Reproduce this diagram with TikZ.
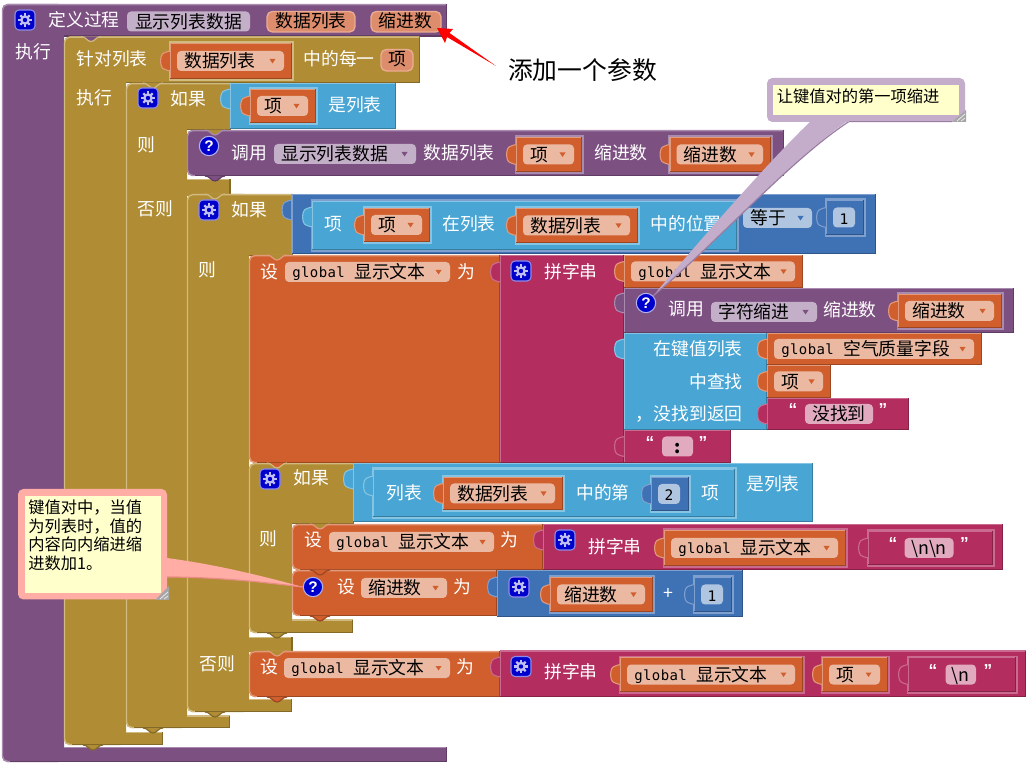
\documentclass[tikz,border=0pt]{standalone}
\usepackage{fontspec}
\setmainfont{Noto Sans CJK SC}
\newfontfamily\gmono[LetterSpace=3]{DejaVu Sans Mono}
\newfontfamily\nmono{DejaVu Sans Mono}
\newfontfamily\lsans{Liberation Sans}
\definecolor{pu}{HTML}{7D5082}\definecolor{puL}{HTML}{A88BAE}\definecolor{puD}{HTML}{5F3D64}\definecolor{puP}{HTML}{C3B0C8}
\definecolor{ol}{HTML}{B08D35}\definecolor{olL}{HTML}{D0BA80}\definecolor{olD}{HTML}{846A28}
\definecolor{or}{HTML}{D05F2D}\definecolor{orL}{HTML}{E39A7A}\definecolor{orD}{HTML}{9C4722}\definecolor{orP}{HTML}{EBB9A2}
\definecolor{bl}{HTML}{49A6D4}\definecolor{blL}{HTML}{85C4E3}\definecolor{blD}{HTML}{367D9F}\definecolor{blP}{HTML}{B6DBEE}
\definecolor{mb}{HTML}{3F71B5}\definecolor{mbL}{HTML}{7F9FCF}\definecolor{mbD}{HTML}{2F5588}\definecolor{mbP}{HTML}{B0C5E0}
\definecolor{pk}{HTML}{B32D5E}\definecolor{pkL}{HTML}{CB6A90}\definecolor{pkD}{HTML}{862246}\definecolor{pkP}{HTML}{E1AABF}
\definecolor{note}{HTML}{FFFFCC}\definecolor{cpu}{HTML}{C4ADCA}\definecolor{cpuD}{HTML}{9A7CA3}\definecolor{cpk}{HTML}{FFADA5}\definecolor{cpkD}{HTML}{E88C84}
\definecolor{ico}{HTML}{0000CC}\definecolor{paramF}{HTML}{DD8C6C}\definecolor{paramL}{HTML}{EBAD92}
\newcount\bkid
\newcommand\bkn{\global\advance\bkid by 1 }
\newcommand\zh{\fontsize{13.35pt}{16pt}\selectfont}
\newcommand\gl{\raisebox{.8pt}{\gmono\fontsize{10.5pt}{16pt}\selectfont global}\hspace{7pt}}
\tikzset{
  wl/.style={text=white,font=\zh,inner sep=0pt,text height=11.2pt,text depth=1.2pt,anchor=center},
  bk/.style={text=black,font=\zh,inner sep=0pt,text height=11.2pt,text depth=1.2pt},
  nt/.style={text=black,font=\fontsize{12.2pt}{14pt}\selectfont,inner sep=0pt,anchor=west,text height=10pt,text depth=1.2pt},
  qm/.style={text=white,font=\lsans\bfseries\fontsize{11.5pt}{13pt}\selectfont,inner sep=0pt}
}
\newcommand\bkvb[5]{%
 \fill[fill=#5] (#1,#2) rectangle (#3,#4);
 \draw[draw=#5L,line width=1pt] (#1+.5,#4) -- (#1+.5,#2+.6) -- (#3,#2+.6);
 \draw[draw=#5D,line width=.9pt] (#3-.5,#2) -- (#3-.5,#4-.5) -- (#1,#4-.5);
}
\newcommand\bkbez[5]{\fill[fill=#5L] (#1-1.5,#2-1.5) rectangle (#3+2,#4+2);}
\newcommand\bktab[4]{%
 \path[fill=#3,draw=#4,line width=.8pt] (#1+1,#2-10) .. controls (#1-2,#2-10) and (#1-3,#2-9) .. (#1-6,#2-8) .. controls (#1-10.5,#2-7) and (#1-10.5,#2+7) .. (#1-6,#2+8) .. controls (#1-3,#2+9) and (#1-2,#2+10) .. (#1+1,#2+10);
}
\newcommand\bktooth[4]{%
 \path[fill=#3] (#1-10,#2) .. controls (#1-5,#2) and (#1-4,#2+5) .. (#1,#2+5) .. controls (#1+4,#2+5) and (#1+5,#2) .. (#1+10,#2) -- cycle;
 \draw[draw=#4,line width=.9pt] (#1-10,#2) .. controls (#1-5,#2) and (#1-4,#2+5) .. (#1,#2+5) .. controls (#1+4,#2+5) and (#1+5,#2) .. (#1+10,#2);
}
\newcommand\bkc[9]{%
 \path[fill=#9,rounded corners=4pt] (#2,#4) -- (#1,#4) -- (#1,#8) -- (#2,#8) -- cycle;
 \fill[fill=#9] (#1+6,#4) rectangle (#3,#5);
 \fill[fill=#9] (#1+6,#6) rectangle (#7,#8);
 \draw[draw=#9L,line width=1pt,rounded corners=4pt] (#3,#4+.6) -- (#1+.5,#4+.6) -- (#1+.5,#8-.5) -- (#1+8,#8-.5);
 \draw[draw=#9D,line width=.9pt] (#3-.5,#4) -- (#3-.5,#5-.4) -- (#2,#5-.4);
 \draw[draw=#9L,line width=1pt] (#2,#6+.5) -- (#7,#6+.5);
 \draw[draw=#9D,line width=.9pt] (#7-.5,#6) -- (#7-.5,#8-.5) -- (#1+8,#8-.5);
}
\newcommand\bks[5]{%
 \path[fill=#5,rounded corners=4pt] (#1+12,#2) -- (#1,#2) -- (#1,#4) -- (#1+12,#4) -- cycle;
 \fill[fill=#5] (#1+6,#2) rectangle (#3,#4);
 \draw[draw=#5L,line width=1pt,rounded corners=4pt] (#3,#2+.6) -- (#1+.5,#2+.6) -- (#1+.5,#4-.5) -- (#1+8,#4-.5);
 \draw[draw=#5D,line width=.9pt] (#3-.5,#2) -- (#3-.5,#4-.5) -- (#1+8,#4-.5);
}
\newcommand\bklab[3]{\bkn\node[wl] (t\the\bkid) at (#1,#2) {#3};}
\newcommand\bkpill[6]{%
 \path[fill=#4,rounded corners=3pt] (#1,#3-10) rectangle (#2,#3+10);
 \bkn\node[bk,anchor=west] (t\the\bkid) at (#1+7,#3) {#6};
 \fill[fill=#5] (#2-14.5,#3-2) -- (#2-8.5,#3-2) -- (#2-11.5,#3+2.5) -- cycle;
}
\newcommand\bkcp[5]{%
 \path[fill=#4,rounded corners=3pt] (#1,#3-10) rectangle (#2,#3+10);
 \bkn\node[bk,anchor=center] (t\the\bkid) at ({(#1+#2)/2},#3) {#5};
}
\newcommand\bkget[5]{%
 \pgfmathsetmacro\yc{(#2+#4)/2}
 \bktab{#1}{\yc}{or}{orL}
 \bkvb{#1}{#2}{#3}{#4}{or}
 \pgfmathsetmacro\pa{#1+7}\pgfmathsetmacro\pb{#3-8}
 \bkpill{\pa}{\pb}{\yc}{orP}{or}{#5}
}
\newcommand\bkgetb[6]{\bkbez{#1}{#2}{#3}{#4}{#6}\bkget{#1}{#2}{#3}{#4}{#5}}
\newcommand\bknum[6]{%
 \bkbez{#1}{#2}{#3}{#4}{#6}
 \pgfmathsetmacro\yc{(#2+#4)/2}
 \bktab{#1}{\yc}{mb}{mbL}
 \bkvb{#1}{#2}{#3}{#4}{mb}
 \pgfmathsetmacro\pa{#1+7}\pgfmathsetmacro\pb{#3-9}
 \bkcp{\pa}{\pb}{\yc}{mbP}{\nmono\fontsize{10.9pt}{14pt}\selectfont #5}
}
\newcommand\bkstr[9]{%
 \pgfmathsetmacro\yc{(#2+#4)/2}
 \bktab{#1}{\yc}{pk}{pkL}
 \bkvb{#1}{#2}{#3}{#4}{pk}
 \bkn\node[text=white,inner sep=0pt,font=\lsans\bfseries\fontsize{13pt}{14pt}\selectfont] (t\the\bkid) at (#5,\yc-4) {“};
 \bkcp{#6}{#7}{\yc}{pkP}{#9}
 \bkn\node[text=white,inner sep=0pt,font=\lsans\bfseries\fontsize{13pt}{14pt}\selectfont] (t\the\bkid) at (#8,\yc-4) {”};
}
\newcommand\bkgear[2]{%
 \path[fill=ico,draw=ico!45!white,line width=.8pt,rounded corners=3pt] (#1-10,#2-10) rectangle (#1+10,#2+10);
 \foreach \a in {0,45,...,315}{\draw[draw=ico!25!white,line width=1.6pt] (#1,#2) ++(\a:3.5) -- ++(\a:3.2);}
 \fill[fill=ico!25!white] (#1,#2) circle[radius=4.8];
 \fill[fill=ico] (#1,#2) circle[radius=2.2];
}
\newcommand\bkq[3]{%
 \node[circle,fill=ico,draw=ico!30!white,line width=.8pt,minimum size=14.5pt,inner sep=0pt,qm] (#1) at (#2,#3) {?};
}
\begin{document}
\begin{tikzpicture}[x=0.75pt,y=-0.75pt]
\useasboundingbox (0,0) rectangle (1029,766);
\fill[white] (0,0) rectangle (1029,766);
% ---- outer procedure
\bkc{2}{64}{447}{4}{36.5}{747}{447}{762}{pu}
% ---- for each
\bkc{64}{126}{420}{36.5}{83}{732}{163}{745}{ol}
\bktooth{91}{36.5}{pu}{olL}
% ---- first if
\bkc{126}{187}{231}{83}{130}{715.5}{230}{728}{ol}
\fill[fill=ol] (187,179) rectangle (230,196);
\draw[draw=olL,line width=1pt] (187,179.5) -- (230,179.5);
\draw[draw=olD,line width=.9pt] (230,179) -- (230,196);
\bktooth{153}{83}{ol}{olL}
% ---- second if
\bkc{187}{249}{293}{194}{256}{699}{292}{712}{ol}
\fill[fill=ol] (249,637) rectangle (292,652);
\draw[draw=olL,line width=1pt] (249,637.5) -- (292,637.5);
\draw[draw=olD,line width=.9pt] (292,637) -- (292,652);
\bktooth{215}{194}{ol}{olL}
% ---- third if
\bkc{249}{292}{354}{463}{524}{619.5}{353}{633}{ol}
% ---- blue test of first if
\bktab{230}{99}{bl}{blL}
\bkvb{230}{83}{396}{129}{bl}
\bkgetb{250}{89}{316}{123}{项}{bl}
\bklab{355}{105}{是列表}
% ---- call
\bks{187}{130}{784}{176}{pu}
\bktooth{215}{130}{ol}{puL}
\bktooth{215}{176}{pu}{puD}
\bkq{qc}{209}{146}
\bklab{249}{153}{调用}
\bkpill{274}{416}{154}{puP}{pu}{显示列表数据}
\bklab{459}{153}{数据列表}
\bkgetb{516}{137}{582}{172}{项}{pu}
\bklab{621}{153}{缩进数}
\bkgetb{669.5}{137}{771}{172}{缩进数}{pu}
% ---- position test
\bktab{291.5}{210}{mb}{mbL}
\bkvb{291.5}{194}{876}{254}{mb}
\bkbez{312}{201}{737}{250}{mb}
\bktab{312}{217}{bl}{blL}
\bkvb{312}{201}{737}{250}{bl}
\bklab{333}{224}{项}
\bkgetb{364}{208}{430}{242}{项}{bl}
\bklab{469}{224}{在列表}
\bkgetb{516}{208}{638}{243}{数据列表}{bl}
\bklab{686}{224}{中的位置}
\bkpill{743}{812}{218}{mbP}{mb}{等于}
\bknum{826}{200}{864}{235}{1}{mb}
% ---- set global
\bks{249}{255}{500}{463}{or}
\bktooth{277}{255}{ol}{orL}
\bktooth{277}{463}{or}{olL}
\bklab{269}{272}{设}
\bkpill{285}{450}{272}{orP}{or}{\gl 显示文本}
\bklab{466}{272}{为}
\bktab{500}{272}{pk}{pkL}
\bkvb{500}{255}{624}{463}{pk}
\bkgear{521}{271}
\bklab{571}{272}{拼字串}
\bkget{624}{255}{803}{288}{\gl 显示文本}
% call in join
\bktab{624}{303}{pu}{puL}
\bkvb{624}{288}{1014}{333}{pu}
\bkq{qa}{646}{303}
\bklab{686}{309}{调用}
\bkpill{711}{817}{312}{puP}{pu}{字符缩进}
\bklab{850}{310}{缩进数}
\bkgetb{898}{294}{1002}{328}{缩进数}{pu}
% lookup
\bktab{624}{349}{bl}{blL}
\bkvb{624}{333}{767}{430}{bl}
\bkn\node[wl,anchor=east] (t\the\bkid) at (743,349) {在键值列表};
\bkn\node[wl,anchor=east] (t\the\bkid) at (743,382) {中查找};
\bkn\node[wl,anchor=east] (t\the\bkid) at (743,414) {，没找到返回};
\bkget{767}{333}{982}{365}{\gl 空气质量字段}
\bkget{767}{365}{831}{398}{项}
\bkstr{767}{398}{909}{430}{793}{805}{873}{883}{没找到}
\bkstr{624}{430}{731}{463}{650}{662}{693}{703}{\bfseries :}
% ---- inner if
\bkgear{270}{479}
\bklab{311}{478}{如果}
\bktab{353}{479}{bl}{blL}
\bkvb{353}{463}{813}{522}{bl}
\bkbez{373}{469}{735}{517}{bl}
\bktab{373}{486}{bl}{blL}
\bkvb{373}{469}{735}{517}{bl}
\bklab{404}{493}{列表}
\bkgetb{443}{477}{563}{510}{数据列表}{bl}
\bklab{603}{493}{中的第}
\bknum{651}{477}{689}{511}{2}{bl}
\bklab{710}{493}{项}
\bklab{773}{484}{是列表}
\bklab{268}{539}{则}
% set 1
\bks{292}{524}{543}{570}{or}
\bktooth{320}{524}{ol}{orL}
\bklab{313}{540}{设}
\bkpill{329}{494}{542}{orP}{or}{\gl 显示文本}
\bklab{509}{540}{为}
\bktab{543}{540}{pk}{pkL}
\bkvb{543}{524}{1003}{570}{pk}
\bkgear{565}{540}
\bklab{615}{547}{拼字串}
\bkgetb{664}{530}{846}{566}{\gl 显示文本}{pk}
\bkbez{868}{531}{993}{565}{pk}
\bkstr{868}{531}{993}{565}{893}{904.5}{953.5}{964.5}{\textbackslash n\textbackslash n}
% set 2
\bks{292}{570}{497}{616}{or}
\bktooth{320}{570}{or}{orD}
\bktooth{320}{616}{or}{orD}
\bkq{qb}{313}{587}
\bklab{346}{587}{设}
\bkpill{361}{447}{588}{orP}{or}{缩进数}
\bklab{462}{587}{为}
\bktab{497}{587}{mb}{mbL}
\bkvb{497}{570}{743}{617}{mb}
\bkgear{519}{587}
\bkgetb{550}{577}{653}{612}{缩进数}{mb}
\bklab{668.5}{593}{+}
\bknum{694}{577}{732}{612}{1}{mb}
% else set
\bks{249}{651}{500}{697}{or}
\bktooth{277}{633}{ol}{olD}
\bktooth{277}{651}{ol}{orL}
\bktooth{277}{697}{or}{orD}
\bklab{217}{664}{否则}
\bklab{269}{667}{设}
\bkpill{284}{450}{668}{orP}{or}{\gl 显示文本}
\bklab{465}{667}{为}
\bktab{500}{667}{pk}{pkL}
\bkvb{500}{650.5}{1026}{697}{pk}
\bkgear{521}{666.5}
\bklab{571}{672}{拼字串}
\bkgetb{620}{657}{803}{692}{\gl 显示文本}{pk}
\bkgetb{822}{657}{888}{692}{项}{pk}
\bkbez{908}{657}{1016}{692}{pk}
\bkstr{908}{657}{1016}{692}{933}{945.5}{976}{988}{\textbackslash n}
% teeth at the bottoms
\bktooth{215}{712}{ol}{olD}
\bktooth{153}{728}{ol}{olD}
\bktooth{93}{745}{ol}{olD}
% ---- header
\bkgear{25}{20}
\bklab{84}{20}{定义过程}
\bkcp{127}{250}{21.5}{puP}{显示列表数据}
\path[fill=paramF,draw=paramL,line width=1pt,rounded corners=4pt] (267,11.5) rectangle (355,32);
\bkn\node[bk] (pd) at (311,21) {数据列表};
\path[fill=paramF,draw=paramL,line width=1pt,rounded corners=4pt] (371,11.5) rectangle (441,32);
\bkn\node[bk] (ps) at (405.5,21) {缩进数};
\bklab{33}{52}{执行}
\bklab{112}{59}{针对列表}
\bkgetb{170}{43}{292}{79}{数据列表}{ol}
\bklab{339}{59}{中的每一}
\path[fill=paramF,draw=paramL,line width=1pt,rounded corners=4pt] (381,49.5) rectangle (413,71);
\bkn\node[bk] (pi) at (397,59) {项};
\bklab{94}{98}{执行}
\bkgear{148}{98}
\bklab{188}{99}{如果}
\bklab{146}{145}{则}
\bklab{155}{209}{否则}
\bkgear{209}{210}
\bklab{249}{210}{如果}
\bklab{207}{270}{则}
% ---- callout top right
\path[fill=cpu] (812,120) .. controls (770,160) and (700,240) .. (qa.north east) .. controls (720,240) and (790,160) .. (849,120) -- cycle;
\draw[draw=cpuD,line width=.9pt] (qa.north east) .. controls (720,240) and (790,160) .. (849,121.5) -- (952,121.5);
\path[fill=cpu,rounded corners=4pt] (767,78) rectangle (965,122);
\draw[draw=cpuD,line width=.9pt] (849,121.5) -- (952,121.5);
\fill[fill=note] (773,85) rectangle (959,115);
\fill[fill=gray!70] (952,122) -- (966,122) -- (966,110) -- cycle;
\draw[draw=white!85!gray,line width=.6pt] (957,121) -- (965,114) (961,121) -- (965,118);
\node[nt] (notea) at (776.5,97) {让键值对的第一项缩进};
% ---- callout left
\path[fill=cpk] (167,558) .. controls (220,565) and (270,578) .. (qb.west) .. controls (270,583) and (220,577) .. (167,577) -- cycle;
\draw[draw=cpkD,line width=.9pt] (qb.west) .. controls (270,583) and (220,577) .. (167,577);
\path[fill=cpk,rounded corners=4pt] (18,489) rectangle (167,599.5);
\fill[fill=note] (25,496) rectangle (161,593);
\fill[fill=gray!70] (155,600) -- (169,600) -- (169,586) -- cycle;
\draw[draw=white!85!gray,line width=.6pt] (160,599) -- (168,592) (164,599) -- (168,596);
\node[nt] (nb1) at (28,508) {键值对中，当值};
\node[nt] (nb2) at (28,527) {为列表时，值的};
\node[nt] (nb3) at (28,545) {内容向内缩进缩};
\node[nt] (nb4) at (28,564) {进数加1。};
% ---- annotation
\node[text=black,font=\fontsize{18.6pt}{22pt}\selectfont,inner sep=0pt] (ann) at (582.5,70) {添加一个参数};
\coordinate (arrowtip) at (437,28);
\coordinate (arrowend) at (496,66);
\fill[fill=red] (arrowtip) -- (453,29) -- (449.5,33) -- (arrowend) -- (447,37) -- (445,43) -- cycle;
\end{tikzpicture}
\end{document}
